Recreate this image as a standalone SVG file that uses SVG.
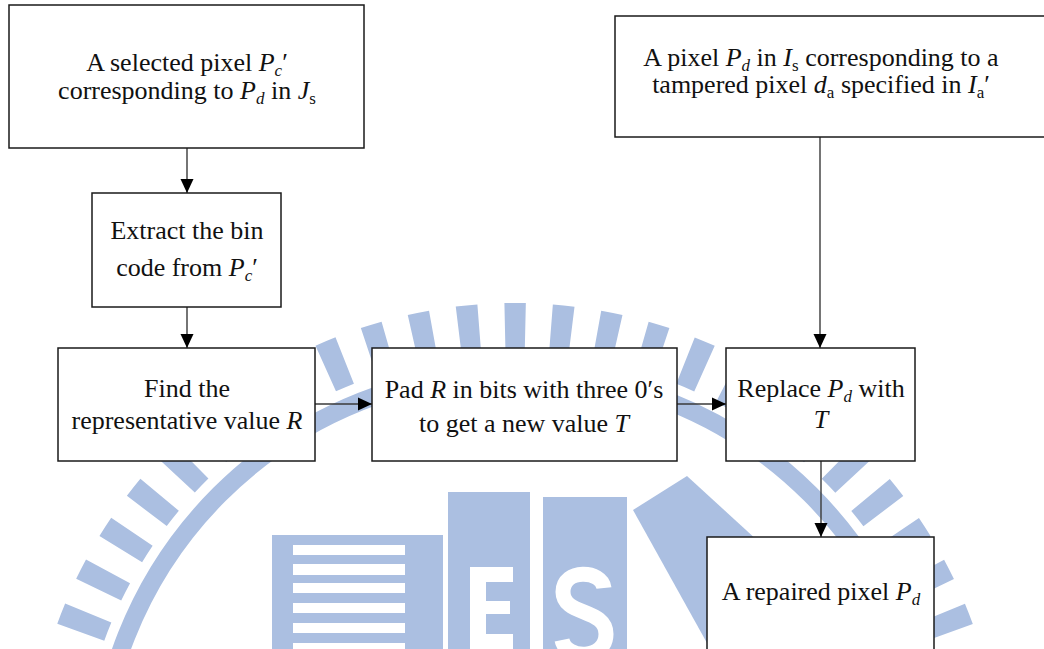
<svg xmlns="http://www.w3.org/2000/svg" width="1044" height="649" viewBox="0 0 1044 649">
  <defs>
    <style>
      .box { fill: #ffffff; stroke: #1a1a1a; stroke-width: 1.5; }
      .lbl { font-family: "Liberation Serif", "Times New Roman", serif; font-size: 26px; fill: #111111; text-anchor: middle; }
      .it { font-style: italic; }
      .sub { font-size: 17px; }
      .edge { fill: none; stroke: #3a3a3a; stroke-width: 1.4; marker-end: url(#arrow); }
      .wm { fill: #abbfe1; }
    </style>
    <marker id="arrow" markerUnits="userSpaceOnUse" markerWidth="14" markerHeight="14" refX="14" refY="7" orient="auto">
      <path d="M0,0.5 L14,7 L0,13.5 z" fill="#000000"/>
    </marker>
  </defs>

  <rect x="0" y="0" width="1044" height="649" fill="#ffffff"/>

  <!-- background emblem -->
  <g id="watermark">
    <!-- ring of radial ticks -->
    <path d="M53,790 A462,462 0 0 1 977,790" fill="none" stroke="#abbfe1" stroke-width="50" stroke-dasharray="20.6 25.6" stroke-dashoffset="23.8"/>
    <!-- solid inner band -->
    <circle cx="515" cy="790" r="418" fill="none" stroke="#abbfe1" stroke-width="18"/>
    <!-- striped block -->
    <rect class="wm" x="272" y="535" width="171" height="120"/>
    <g fill="#ffffff">
      <rect x="293" y="545" width="112" height="10"/>
      <rect x="293" y="564" width="112" height="11"/>
      <rect x="293" y="583" width="112" height="10"/>
      <rect x="293" y="603" width="112" height="10"/>
      <rect x="293" y="623" width="112" height="10"/>
      <rect x="293" y="643" width="112" height="10"/>
    </g>
    <!-- E block -->
    <rect class="wm" x="448" y="492" width="82" height="160"/>
    <path d="M470,567 H513 V582 H486 V601 H510 V614 H486 V634 H513 V652 H470 Z" fill="#ffffff"/>
    <!-- S block -->
    <rect class="wm" x="543" y="497" width="84" height="155"/>
    <path d="M604,588 C602,570 563,568 563,592 C563,616 606,608 606,634 C606,660 566,660 562,640" fill="none" stroke="#ffffff" stroke-width="15"/>
    <!-- diagonal wedge -->
    <polygon class="wm" points="633,510 687,476 770,552 770,652 712,652"/>
  </g>

  <!-- connectors -->
  <g id="connectors">
    <line class="edge" x1="187" y1="148" x2="187" y2="193"/>
    <line class="edge" x1="187" y1="307" x2="187" y2="348"/>
    <line class="edge" x1="315" y1="404" x2="372" y2="404"/>
    <line class="edge" x1="677" y1="404" x2="726" y2="404"/>
    <line class="edge" x1="820" y1="137" x2="820" y2="348"/>
    <line class="edge" x1="821" y1="461" x2="821" y2="537"/>
  </g>

  <g id="node-selected">
    <rect class="box" x="9" y="5" width="355" height="143"/>
    <text class="lbl" x="187" y="71">A selected pixel <tspan class="it">P</tspan><tspan class="it sub" dy="5">c</tspan><tspan dy="-5">′</tspan></text>
    <text class="lbl" x="187" y="99">corresponding to <tspan class="it">P</tspan><tspan class="it sub" dy="5">d</tspan><tspan dy="-5"> in </tspan><tspan class="it">J</tspan><tspan class="sub" dy="5">s</tspan></text>
  </g>

  <g id="node-tampered">
    <rect class="box" x="615" y="16" width="440" height="121"/>
    <text class="lbl" x="821" y="66">A pixel <tspan class="it">P</tspan><tspan class="it sub" dy="5">d</tspan><tspan dy="-5"> in </tspan><tspan class="it">I</tspan><tspan class="sub" dy="5">s</tspan><tspan dy="-5"> corresponding to a</tspan></text>
    <text class="lbl" x="821" y="93">tampered pixel <tspan class="it">d</tspan><tspan class="sub" dy="5">a</tspan><tspan dy="-5"> specified in </tspan><tspan class="it">I</tspan><tspan class="sub" dy="5">a</tspan><tspan dy="-5">′</tspan></text>
  </g>

  <g id="node-extract">
    <rect class="box" x="92" y="193" width="189" height="114"/>
    <text class="lbl" x="187" y="239">Extract the bin</text>
    <text class="lbl" x="187" y="276">code from <tspan class="it">P</tspan><tspan class="it sub" dy="5">c</tspan><tspan dy="-5">′</tspan></text>
  </g>

  <g id="node-find">
    <rect class="box" x="58" y="348" width="257" height="113"/>
    <text class="lbl" x="187" y="397">Find the</text>
    <text class="lbl" x="187" y="429">representative value <tspan class="it">R</tspan></text>
  </g>

  <g id="node-pad">
    <rect class="box" x="372" y="348" width="305" height="113"/>
    <text class="lbl" x="524" y="398">Pad <tspan class="it">R</tspan> in bits with three 0′s</text>
    <text class="lbl" x="524" y="432">to get a new value <tspan class="it">T</tspan></text>
  </g>

  <g id="node-replace">
    <rect class="box" x="726" y="348" width="189" height="113"/>
    <text class="lbl" x="821" y="397">Replace <tspan class="it">P</tspan><tspan class="it sub" dy="5">d</tspan><tspan dy="-5"> with</tspan></text>
    <text class="lbl it" x="821" y="428">T</text>
  </g>

  <g id="node-repaired">
    <rect class="box" x="707" y="537" width="227" height="130"/>
    <text class="lbl" x="821" y="600">A repaired pixel <tspan class="it">P</tspan><tspan class="it sub" dy="5">d</tspan></text>
  </g>
</svg>
